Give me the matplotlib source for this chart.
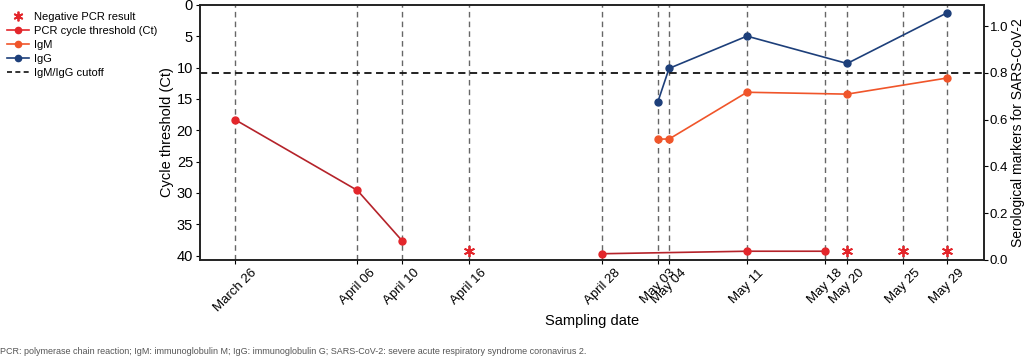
import matplotlib
matplotlib.use("Agg")
import matplotlib.pyplot as plt
from matplotlib.lines import Line2D
import datetime as dt

plt.rcParams['font.family'] = ['Liberation Sans', 'DejaVu Sans']

# Data
def d(s):
    return dt.datetime.strptime("2020 " + s, "%Y %B %d")

tick_dates = ["March 26", "April 06", "April 10", "April 16", "April 28", "May 03",
              "May 04", "May 11", "May 18", "May 20", "May 25", "May 29"]

ct_dates_a = ["March 26", "April 06", "April 10"]
ct_vals_a = [18.3, 29.6, 37.6]
ct_dates_b = ["April 28", "May 11", "May 18"]
ct_vals_b = [39.7, 39.3, 39.3]

neg_dates = ["April 16", "May 20", "May 25", "May 29"]
neg_vals = [39.3, 39.3, 39.3, 39.3]

igm_dates = ["May 03", "May 04", "May 11", "May 20", "May 29"]
igm_vals = [0.517, 0.517, 0.717, 0.709, 0.778]

igg_dates = ["May 03", "May 04", "May 11", "May 20", "May 29"]
igg_vals = [0.677, 0.819, 0.957, 0.840, 1.057]

cutoff = 0.8

red = "#e3262b"
red_line = "#b5232a"
orange = "#f0552a"
blue = "#1d3f7a"

fig = plt.figure(figsize=(10.24, 3.57), dpi=100)
ax = fig.add_axes([200/1024, 1 - 260/357, 784/1024, 255/357])
ax2 = ax.twinx()

for s in tick_dates:
    ax.axvline(d(s), color="#666666", ls=(0, (4, 3)), lw=1.0, zorder=0)

ax.plot([d(s) for s in ct_dates_a], ct_vals_a, color=red_line, lw=1.2,
        marker="o", ms=5, mfc=red, mec=red, zorder=3)
ax.plot([d(s) for s in ct_dates_b], ct_vals_b, color=red_line, lw=1.2,
        marker="o", ms=5, mfc=red, mec=red, zorder=3)
ax.plot([d(s) for s in neg_dates], neg_vals, ls="none", marker=(6, 2, 0),
        ms=8, mec=red, mew=1.3, zorder=3)

ax2.plot([d(s) for s in igm_dates], igm_vals, color=orange, lw=1.2,
         marker="o", ms=5, mfc=orange, mec=orange)
ax2.plot([d(s) for s in igg_dates], igg_vals, color=blue, lw=1.2,
         marker="o", ms=5, mfc=blue, mec=blue)
ax2.axhline(cutoff, color="#111111", ls=(0, (4, 2.5)), lw=1.3)

ax.set_ylim(40.7, 0)
ax.set_yticks([0, 5, 10, 15, 20, 25, 30, 35, 40])
ax2.set_ylim(0, 1.09)
ax2.set_yticks([0.0, 0.2, 0.4, 0.6, 0.8, 1.0])
ax.set_xlim(d("March 26") - dt.timedelta(days=3.15), d("May 29") + dt.timedelta(days=3.3))

ax.set_xticks([d(s) for s in tick_dates])
ax.set_xticklabels(tick_dates, rotation=45, ha="center", fontsize=9.5)
ax.tick_params(axis="y", labelsize=10.5, length=3, pad=2)
ax2.tick_params(axis="y", labelsize=9.5, length=3, pad=1)
ax.tick_params(axis="x", length=3, pad=2)

ax.set_ylabel("Cycle threshold (Ct)", fontsize=10.5, labelpad=2)
ax2.set_ylabel("Serological markers for SARS-CoV-2", fontsize=10, labelpad=2)
ax.set_xlabel("Sampling date", fontsize=10.5, labelpad=0)

for a in (ax, ax2):
    for sp in a.spines.values():
        sp.set_linewidth(1.2)
        sp.set_color("#222222")

handles = [
    Line2D([], [], ls="none", marker=(6, 2, 0), ms=7, mec=red, mew=1.3),
    Line2D([], [], color=red, lw=1.2, marker="o", ms=4.5),
    Line2D([], [], color=orange, lw=1.2, marker="o", ms=4.5),
    Line2D([], [], color=blue, lw=1.2, marker="o", ms=4.5),
    Line2D([], [], color="#111111", lw=1.2, ls=(0, (3, 2))),
]
labels = ["Negative PCR result", "PCR cycle threshold (Ct)", "IgM", "IgG", "IgM/IgG cutoff"]
fig.legend(handles, labels, loc="upper left", bbox_to_anchor=(0.0, 0.985),
           frameon=False, fontsize=8, handlelength=2.0, handletextpad=0.5,
           labelspacing=0.35, borderaxespad=0.2)

fig.text(0.0, 1 - 351/357, "PCR: polymerase chain reaction; IgM: immunoglobulin M; IgG: immunoglobulin G; "
         "SARS-CoV-2: severe acute respiratory syndrome coronavirus 2.",
         fontsize=6.5, color="#555555", va="center", ha="left")

fig.savefig("out.png", dpi=100)
